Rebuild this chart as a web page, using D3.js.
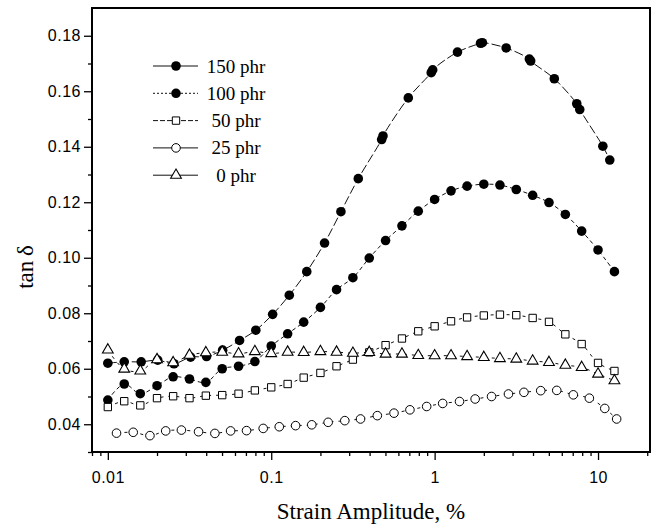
<!DOCTYPE html>
<html>
<head>
<meta charset="utf-8">
<script src="https://cdn.jsdelivr.net/npm/d3@7"></script>
<style>
  body { margin: 0; background: #fff; }
  svg { display: block; }
</style>
</head>
<body>
<div id="chart"></div>
<script>
// strain amplitude (%) and tan delta
var strainStd = [0.01, 0.0126, 0.0158, 0.02, 0.0251, 0.0316, 0.0398, 0.0501, 0.0631, 0.0794,
  0.1, 0.126, 0.158, 0.2, 0.251, 0.316, 0.398, 0.501, 0.631, 0.794,
  1, 1.26, 1.58, 2, 2.51, 3.16, 3.98, 5.01, 6.31, 7.94, 10, 12.6];

var strain150 = [0.01, 0.0126, 0.016, 0.0202, 0.0254, 0.0321, 0.0402, 0.0504, 0.064, 0.0805,
  0.102, 0.129, 0.165, 0.212, 0.267, 0.341, 0.474, 0.483, 0.69, 0.953,
  0.973, 1.38, 1.91, 1.96, 2.74, 3.8, 3.87, 5.4, 7.41, 7.73, 10.7, 11.8];
var tan150 = [0.0620, 0.0625, 0.0625, 0.0631, 0.0618, 0.0642, 0.0644, 0.0667, 0.0702, 0.0739,
  0.0796, 0.0865, 0.0950, 0.1053, 0.1166, 0.1285, 0.1426, 0.1439, 0.1576, 0.1667,
  0.1677, 0.1741, 0.1773, 0.1775, 0.1756, 0.1716, 0.1709, 0.1645, 0.1555, 0.1534, 0.1402, 0.1352];

var tan100 = [0.0487, 0.0545, 0.0510, 0.0539, 0.0571, 0.0563, 0.0551, 0.0600, 0.0609, 0.0626,
  0.0682, 0.0726, 0.0768, 0.0821, 0.0885, 0.0928, 0.0999, 0.1062, 0.1115, 0.1168,
  0.1210, 0.1241, 0.1258, 0.1265, 0.1262, 0.1246, 0.1225, 0.1199, 0.1156, 0.1096, 0.1028, 0.0950];

var tan50 = [0.0462, 0.0483, 0.0468, 0.0494, 0.0501, 0.0494, 0.0503, 0.0505, 0.0510, 0.0522,
  0.0533, 0.0545, 0.0568, 0.0585, 0.0609, 0.0633, 0.0659, 0.0685, 0.0709, 0.0735,
  0.0753, 0.0771, 0.0785, 0.0792, 0.0795, 0.0793, 0.0783, 0.0769, 0.0724, 0.0689, 0.0621, 0.0592];

var strain25 = [0.0113, 0.0143, 0.0181, 0.0226, 0.0282, 0.0359, 0.0452, 0.0564, 0.0706, 0.0893,
  0.112, 0.141, 0.177, 0.223, 0.282, 0.352, 0.446, 0.564, 0.706, 0.894,
  1.12, 1.42, 1.77, 2.23, 2.83, 3.52, 4.46, 5.59, 7.06, 8.85, 11.0, 13.0];
var tan25 = [0.0368, 0.0371, 0.0359, 0.0376, 0.0379, 0.0373, 0.0367, 0.0376, 0.0377, 0.0385,
  0.0391, 0.0395, 0.0398, 0.0407, 0.0413, 0.0419, 0.0431, 0.0440, 0.0452, 0.0464,
  0.0475, 0.0482, 0.0491, 0.0500, 0.0509, 0.0515, 0.0521, 0.0522, 0.0506, 0.0494, 0.0457, 0.0419];

var tan0 = [0.0668, 0.0599, 0.0592, 0.0633, 0.0622, 0.0649, 0.0658, 0.0660, 0.0654, 0.0662,
  0.0655, 0.0660, 0.0659, 0.0662, 0.0660, 0.0656, 0.0659, 0.0653, 0.0653, 0.0648,
  0.0647, 0.0647, 0.0644, 0.0641, 0.0637, 0.0635, 0.0628, 0.0623, 0.0613, 0.0605, 0.0581, 0.0557];

var legendLabels = ["150 phr", "100 phr", "50 phr", "25 phr", "0 phr"];
var xTicks = [0.01, 0.1, 1, 10];
var xMinor = [0.008, 0.009, 0.02, 0.03, 0.04, 0.05, 0.06, 0.07, 0.08, 0.09,
  0.2, 0.3, 0.4, 0.5, 0.6, 0.7, 0.8, 0.9, 2, 3, 4, 5, 6, 7, 8, 9, 20];
var yTicks = [0.04, 0.06, 0.08, 0.10, 0.12, 0.14, 0.16, 0.18];
var yMinor = [0.03, 0.05, 0.07, 0.09, 0.11, 0.13, 0.15, 0.17];

var zip = function(xs, ys) {
  return ys.map(function(v, i) { return {x: xs[i], y: v}; });
};

var series = [
  {name: "150 phr", data: zip(strain150, tan150), symbol: "fcircle", dash: "9,3", legendDash: null},
  {name: "100 phr", data: zip(strainStd, tan100), symbol: "fcircle", dash: "4,3", legendDash: "2,2"},
  {name: "50 phr", data: zip(strainStd, tan50), symbol: "square", dash: "3,5", legendDash: "5,2"},
  {name: "25 phr", data: zip(strain25, tan25), symbol: "circle", dash: "3,5", legendDash: null},
  {name: "0 phr", data: zip(strainStd, tan0), symbol: "triangle", dash: "3,5", legendDash: null}
];

var W = 656, H = 529;
var plotL = 92, plotR = 650, plotT = 8, plotB = 452;
var sans = "'Liberation Sans', Arial, sans-serif";
var serif = "'Liberation Serif', 'Times New Roman', serif";

var svg = d3.select("#chart").append("svg")
  .attr("width", W)
  .attr("height", H);

svg.append("rect").attr("width", W).attr("height", H).style("fill", "#fff");

var x = d3.scaleLog().domain([0.008, 20.8]).range([plotL, plotR]);
var y = d3.scaleLinear().domain([0.03, 0.19]).range([plotB, plotT]);

// axes
var gx = svg.append("g").attr("transform", "translate(0," + plotB + ")");
gx.call(d3.axisBottom(x).tickValues(xMinor).tickSize(4).tickFormat(""));
gx.append("g").call(d3.axisBottom(x).tickValues(xTicks).tickSize(8).tickPadding(12)
  .tickFormat(function(d) { return String(d); }));

var gy = svg.append("g").attr("transform", "translate(" + plotL + ",0)");
gy.call(d3.axisLeft(y).tickValues(yMinor).tickSize(4).tickFormat(""));
gy.append("g").call(d3.axisLeft(y).tickValues(yTicks).tickSize(8).tickPadding(3).tickFormat(d3.format(".2f")));

svg.selectAll(".domain").remove();
svg.selectAll(".tick line").style("stroke", "#000").style("stroke-width", 1.3);
svg.selectAll(".tick text")
  .style("font-family", sans)
  .style("font-size", "16px")
  .style("letter-spacing", "0.5px")
  .style("fill", "#000");

svg.append("rect")
  .attr("x", plotL)
  .attr("y", plotT)
  .attr("width", plotR - plotL)
  .attr("height", plotB - plotT)
  .style("fill", "none")
  .style("stroke", "#000")
  .style("stroke-width", 2);

// lines
var line = d3.line()
  .x(function(d) { return x(d.x); })
  .y(function(d) { return y(d.y); })
  .curve(d3.curveCatmullRom.alpha(0.5));

svg.selectAll(".series-line")
  .data(series)
  .enter()
  .append("path")
  .attr("class", "series-line")
  .attr("d", function(d) { return line(d.data); })
  .style("fill", "none")
  .style("stroke", "#111")
  .style("stroke-width", 1)
  .style("stroke-dasharray", function(d) { return d.dash; });

var drawMarker = function(g, kind) {
  if (kind === "fcircle") {
    g.append("circle").attr("r", 4.8).style("fill", "#000");
  } else if (kind === "circle") {
    g.append("circle").attr("r", 4.3).style("fill", "#fff").style("stroke", "#000").style("stroke-width", 1);
  } else if (kind === "square") {
    g.append("path").attr("d", d3.symbol().type(d3.symbolSquare).size(54)())
      .style("fill", "#fff").style("stroke", "#000").style("stroke-width", 1);
  } else if (kind === "triangle") {
    g.append("path").attr("d", d3.symbol().type(d3.symbolTriangle).size(50)())
      .style("fill", "#fff").style("stroke", "#000").style("stroke-width", 1.1);
  }
};

// markers
series.forEach(function(s) {
  svg.append("g").selectAll("g")
    .data(s.data)
    .enter()
    .append("g")
    .attr("transform", function(d) { return "translate(" + x(d.x) + "," + y(d.y) + ")"; })
    .each(function() { drawMarker(d3.select(this), s.symbol); });
});

// legend
var legend = svg.append("g");
series.forEach(function(s, i) {
  var ly = 66 + i * 27.3;
  legend.append("line")
    .attr("x1", 153).attr("x2", 198)
    .attr("y1", ly).attr("y2", ly)
    .style("stroke", "#111")
    .style("stroke-width", 1)
    .style("stroke-dasharray", s.legendDash);
  var m = legend.append("g").attr("transform", "translate(176," + ly + ")");
  drawMarker(m, s.symbol);
  legend.append("text")
    .attr("x", 236)
    .attr("y", ly + 6.5)
    .attr("text-anchor", "middle")
    .style("font-family", serif)
    .style("font-size", "19px")
    .text(legendLabels[i]);
});

// axis titles
svg.append("text")
  .attr("x", (plotL + plotR) / 2)
  .attr("y", 519)
  .attr("text-anchor", "middle")
  .style("font-family", serif)
  .style("font-size", "23px")
  .text("Strain Amplitude, %");

svg.append("text")
  .attr("transform", "translate(33,267) rotate(-90)")
  .attr("text-anchor", "middle")
  .style("font-family", serif)
  .style("font-size", "23px")
  .text("tan\u2009\u03b4");
</script>
</body>
</html>
